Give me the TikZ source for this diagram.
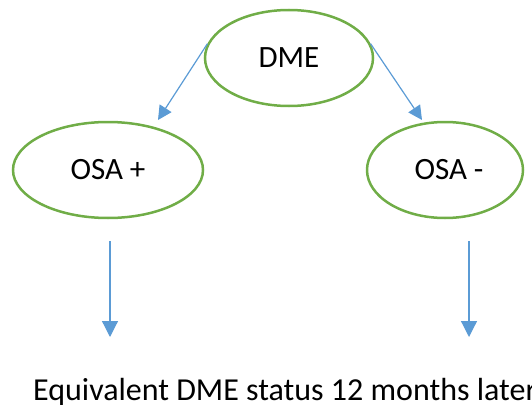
\documentclass[tikz,border=0pt]{standalone}
\usepackage{fontspec}
\setmainfont{Carlito}
\usetikzlibrary{shapes.geometric,arrows.meta}
\definecolor{ogreen}{HTML}{70AD47}
\definecolor{oblue}{HTML}{5B9BD5}
\tikzset{
  oval/.style={ellipse, draw=ogreen, line width=2.5pt, inner sep=0pt, font=\fontsize{31}{37}\selectfont},
  conn/.style={draw=oblue, line width=1.2pt, -{Triangle[length=16pt,width=16pt]}},
  note/.style={font=\fontsize{32}{38}\selectfont, inner sep=0pt}
}
\begin{document}
\begin{tikzpicture}[x=1pt,y=-1pt]
\useasboundingbox (0,0) rectangle (532,404);
\node[oval, minimum width=168pt, minimum height=96pt] (dme) at (289,58) {DME};
\node[oval, minimum width=190pt, minimum height=96pt] (osap) at (108,170) {OSA +};
\node[oval, minimum width=156pt, minimum height=96pt] (osam) at (445,170) {\hspace{8pt}OSA -};
\coordinate (lt) at (158,120);
\coordinate (rt) at (422,120);
\coordinate (ls) at (110,241);
\coordinate (le) at (110,337);
\coordinate (rs) at (469,241);
\coordinate (re) at (469,337);
\draw[conn, -{Triangle[length=14pt,width=14pt]}] (dme.170) -- (lt);
\draw[conn, -{Triangle[length=14pt,width=14pt]}] (dme.10) -- (rt);
\draw[conn] (ls) -- (le);
\draw[conn] (rs) -- (re);
\node[note, anchor=base west] (eq) at (33,400) {Equivalent DME status 12 months later};
\end{tikzpicture}
\end{document}
